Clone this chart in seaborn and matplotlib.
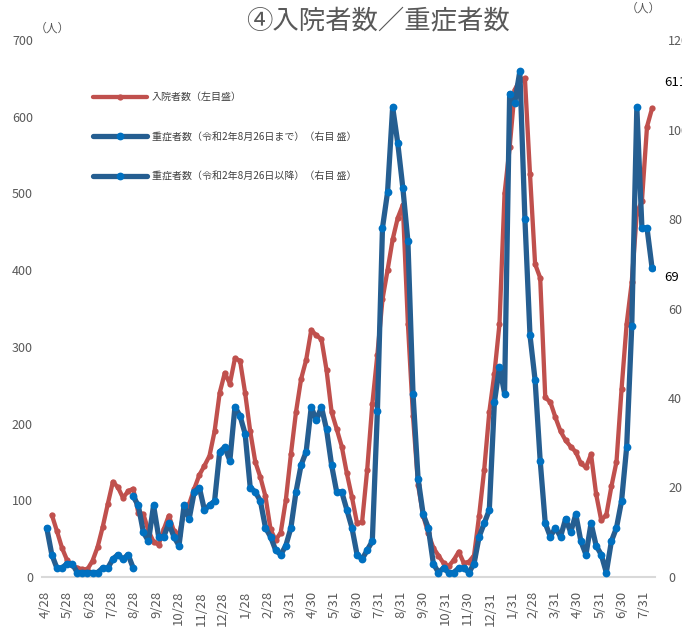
import matplotlib
matplotlib.use('Agg')
import matplotlib.pyplot as plt
import seaborn as sns
import pandas as pd

# weekly observation dates
dates = pd.date_range('2020-04-30', periods=120, freq='7D')

# 入院者数 (left axis), starts at dates[1]
hospitalized = [
    81, 60, 38, 22, 15, 12, 10, 10, 21, 39,
    65, 95, 124, 117, 103, 112, 115, 84, 82, 60,
    46, 42, 62, 80, 60, 55, 84, 95, 115, 133,
    145, 158, 190, 240, 266, 252, 285, 282, 240, 190,
    150, 130, 105, 62, 48, 58, 100, 160, 215, 258,
    283, 322, 315, 310, 270, 215, 193, 170, 135, 104,
    70, 72, 140, 225, 290, 362, 400, 440, 468, 485,
    330, 210, 120, 80, 57, 38, 28, 18, 14, 22,
    33, 18, 20, 28, 80, 140, 215, 265, 330, 500,
    560, 635, 648, 650, 525, 408, 390, 234, 228, 208,
    190, 178, 170, 163, 148, 143, 160, 108, 74, 81,
    118, 150, 245, 330, 384, 475, 490, 587, 611,
]

# 重症者数 until 8/26 (right axis), dates[0:18]
severe_before = [11, 5, 2, 2, 3, 3, 1, 1, 1, 1, 1, 2, 2, 4, 5, 4, 5, 2]

# 重症者数 from 8/26 (right axis), dates[17:]
severe_after = [
    18, 16, 10, 8, 16, 9, 9, 12, 9, 7,
    16, 13, 19, 20, 15, 16, 17, 28, 29, 26,
    38, 36, 32, 20, 19, 17, 11, 9, 6, 5,
    7, 11, 19, 25, 28, 38, 35, 38, 33, 25,
    19, 19, 15, 11, 5, 4, 6, 8, 37, 78,
    86, 105, 97, 87, 75, 41, 22, 14, 11, 3,
    1, 2, 1, 1, 2, 2, 1, 3, 9, 12,
    15, 39, 47, 41, 108, 106, 113, 80, 54, 44,
    26, 12, 9, 11, 9, 13, 10, 14, 8, 5,
    12, 7, 5, 1, 8, 11, 17, 29, 56, 105,
    78, 78, 69,
]

tick_dates = [
    '2020-04-28', '2020-05-28', '2020-06-28', '2020-07-28', '2020-08-28',
    '2020-09-28', '2020-10-28', '2020-11-28', '2020-12-28', '2021-01-28',
    '2021-02-28', '2021-03-31', '2021-04-30', '2021-05-31', '2021-06-30',
    '2021-07-31', '2021-08-31', '2021-09-30', '2021-10-31', '2021-11-30',
    '2021-12-31', '2022-01-31', '2022-02-28', '2022-03-31', '2022-04-30',
    '2022-05-31', '2022-06-30', '2022-07-31',
]

legend_labels = [
    '入院者数（左目盛）',
    '重症者数（令和2年8月26日まで）（右目 盛）',
    '重症者数（令和2年8月26日以降）（右目 盛）',
]

RED = '#C0504D'
BLUE_LINE = '#255E91'
BLUE_MARK = '#0070C0'
GRAY = '#595959'

sns.set_theme(style='white')
plt.rcParams['font.family'] = ['Noto Sans CJK JP', 'DejaVu Sans']

W, H = 682, 629
fig = plt.figure(figsize=(W / 100, H / 100), dpi=100)
ax = fig.add_axes([42 / W, 1 - 577 / H, 613 / W, 537 / H])
ax2 = ax.twinx()

sns.lineplot(x=dates[1:], y=hospitalized, ax=ax, color=RED, linewidth=3.1,
             marker='o', markersize=4.5, markerfacecolor=RED,
             markeredgecolor=RED, markeredgewidth=0, legend=False)
sns.lineplot(x=dates[:18], y=severe_before, ax=ax2, color=BLUE_LINE, linewidth=3.8,
             marker='o', markersize=5.6, markerfacecolor=BLUE_MARK,
             markeredgecolor=BLUE_MARK, markeredgewidth=0, legend=False)
sns.lineplot(x=dates[17:], y=severe_after, ax=ax2, color=BLUE_LINE, linewidth=3.8,
             marker='o', markersize=5.6, markerfacecolor=BLUE_MARK,
             markeredgecolor=BLUE_MARK, markeredgewidth=0, legend=False)

# axes ranges
ax.set_ylim(0, 700)
ax.set_yticks(range(0, 701, 100))
ax2.set_ylim(0, 120)
ax2.set_yticks(range(0, 121, 20))
ax.set_xlim(dates[0] - pd.Timedelta(days=6.5), dates[0] + pd.Timedelta(days=837))

ticks = pd.to_datetime(tick_dates)
ax.set_xticks(ticks)
ax.set_xticklabels([f'{d.month}/{d.day}' for d in ticks])

for a in (ax, ax2):
    a.grid(False)
    a.set_xlabel('')
    a.set_ylabel('')
    for s in a.spines.values():
        s.set_visible(False)
ax.spines['bottom'].set_visible(True)
ax.spines['bottom'].set_color('#D9D9D9')
ax.spines['bottom'].set_linewidth(1.5)

ax.tick_params(axis='y', length=0, pad=6.5, labelsize=9, labelcolor=GRAY)
ax.tick_params(axis='x', length=0, pad=10, labelsize=9.5, labelcolor=GRAY, labelrotation=90)
ax2.tick_params(axis='y', length=0, pad=9.4, labelsize=9, labelcolor=GRAY)

# data labels at the last points
ax.annotate(str(hospitalized[-1]), xy=(dates[-1], hospitalized[-1]),
            xytext=(8.5, 18.5), textcoords='offset points',
            ha='left', va='center', fontsize=9.5, color='black')
ax2.annotate(str(severe_after[-1]), xy=(dates[-1], severe_after[-1]),
             xytext=(8.5, -7), textcoords='offset points',
             ha='left', va='center', fontsize=9.5, color='black')

# title and units
fig.text(378 / W, 1 - 21 / H, '④入院者数／重症者数', ha='center', va='center',
         fontsize=19, color=GRAY)
fig.text(52 / W, 1 - 28 / H, '（人）', ha='center', va='center', fontsize=8.5, color=GRAY)
fig.text(643 / W, 1 - 8 / H, '（人）', ha='center', va='center', fontsize=8.5, color=GRAY)

handles = [ax.get_lines()[0], ax2.get_lines()[0], ax2.get_lines()[1]]
fig.legend(handles, legend_labels, loc='upper left',
           bbox_to_anchor=(92.7 / W, 1 - 92 / H), frameon=False,
           fontsize=7.2, labelcolor='#404040', labelspacing=2.95,
           handlelength=5.4, handletextpad=0.5, borderpad=0, borderaxespad=0)

fig.savefig('out.png', dpi=100)
